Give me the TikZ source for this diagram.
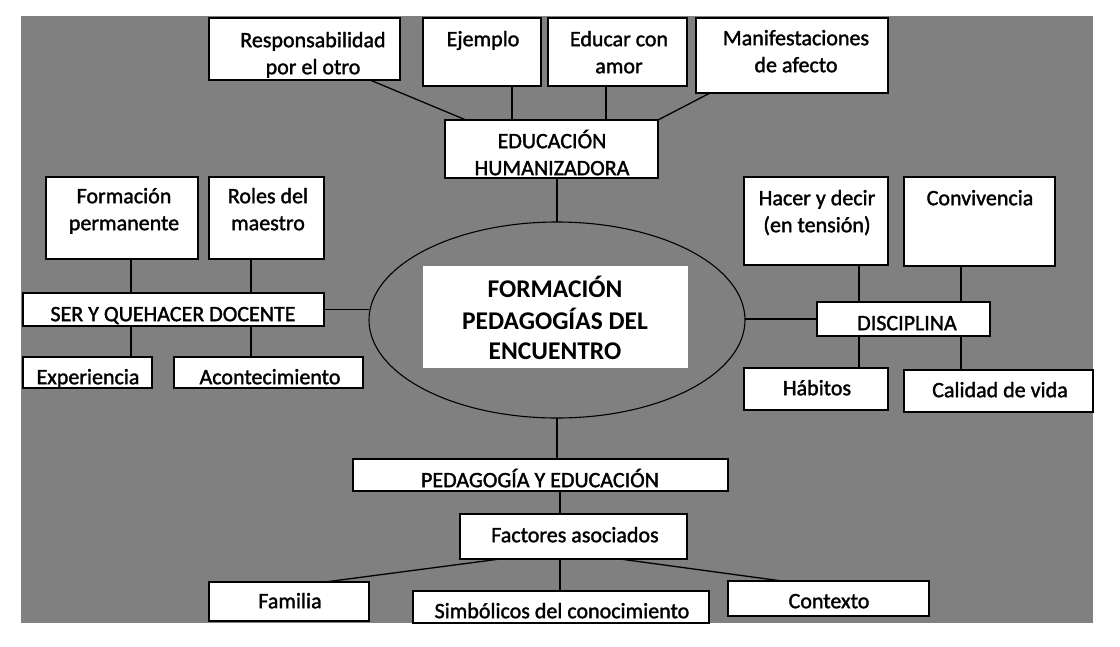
\documentclass[tikz,border=0pt]{standalone}
\usepackage{fontspec}
\setmainfont{Carlito}
\newfontfamily\lblfam{Carlito}[FakeBold=1.5]
\usetikzlibrary{shapes.geometric,calc}
\definecolor{bggray}{RGB}{128,128,128}
\newcommand\lblf{\lblfam\fontsize{22}{27}\selectfont}
\newcommand\ctrf{\fontsize{25.5}{30}\selectfont\bfseries}
% box: name, left, top, right, bottom
\newcommand\mkbox[5]{\node[box, minimum width={#4-#2}, minimum height={#5-#3}] (#1) at ({(#2+#4)/2},{(#3+#5)/2}) {};}
% label: name, x, baseline, text
\newcommand\mklbl[4]{\node[lbl] (#1) at (#2,{#3-18.9}) {\strut #4};}
\tikzset{
  box/.style={draw=black, fill=white, line width=1.1pt, inner sep=0pt, outer sep=0pt},
  lbl/.style={inner sep=0pt, anchor=north, align=center, font=\lblf, text=black},
  conn/.style={draw=black, line width=1.3pt},
}
\begin{document}
\begin{tikzpicture}[x=1pt,y=-1pt]
\useasboundingbox (0,0) rectangle (1120,646);
\fill[white] (0,0) rectangle (1120,646);
\fill[bggray] (21,16) rectangle (1093,623);

% centre
\node[draw=black, ellipse, line width=1.1pt, minimum width=376pt, minimum height=196pt, inner sep=0pt, outer sep=0pt] (ell) at (557,320) {};
\node[fill=white, minimum width=265pt, minimum height=102pt, inner sep=0pt] (ctrbox) at (555.5,317) {};
\node[lbl, font=\ctrf] (ctrtxt) at (555,{297-21}) {\strut FORMACIÓN\\PEDAGOGÍAS DEL\\ENCUENTRO};

% top
\mkbox{resp}{209}{18}{400}{80}
\mkbox{ej}{423}{18}{541}{86}
\mkbox{edu}{548}{18}{687}{86}
\mkbox{man}{696}{18}{888}{93}
\mkbox{eh}{445}{120}{658}{178}
\mklbl{tresp}{313}{47}{Responsabilidad\\por el otro}
\mklbl{tej}{483}{46}{Ejemplo}
\mklbl{tedu}{619}{46}{Educar con\\amor}
\mklbl{tman}{796}{45}{Manifestaciones\\de afecto}
\mklbl{teh}{552}{148}{EDUCACIÓN\\HUMANIZADORA}

% left
\mkbox{fp}{46}{177}{198}{259}
\mkbox{roles}{209}{177}{324}{259}
\mkbox{sqd}{23}{293}{324}{326}
\mkbox{exp}{23}{357}{152}{388}
\mkbox{acon}{174}{357}{363}{388}
\mklbl{tfp}{124}{203}{Formación\\permanente}
\mklbl{troles}{268}{203}{Roles del\\maestro}
\mklbl{tsqd}{173}{321}{SER Y QUEHACER DOCENTE}
\mklbl{texp}{88}{384}{Experiencia}
\mklbl{tacon}{270}{384}{Acontecimiento}

% right
\mkbox{hacer}{744}{177}{888}{265}
\mkbox{conv}{904}{177}{1055}{266}
\mkbox{disc}{817}{302}{990}{336}
\mkbox{hab}{744}{368}{888}{410}
\mkbox{cal}{904}{370}{1093}{412}
\mklbl{thacer}{817}{205}{Hacer y decir\\(en tensión)}
\mklbl{tconv}{980}{205}{Convivencia}
\mklbl{tdisc}{907}{330}{DISCIPLINA}
\mklbl{thab}{817}{395}{Hábitos}
\mklbl{tcal}{1000}{397}{Calidad de vida}

% bottom
\mkbox{pye}{353}{459}{728}{491}
\mkbox{fac}{460}{514}{687}{559}
\mkbox{fam}{209}{582}{369}{621}
\mkbox{sim}{413}{591}{709}{623}
\mkbox{con}{728}{581}{929}{616}
\mklbl{tpye}{540}{487}{PEDAGOGÍA Y EDUCACIÓN}
\mklbl{tfac}{575}{542}{Factores asociados}
\mklbl{tfam}{290}{608}{Familia}
\mklbl{tsim}{562}{618}{Simbólicos del conocimiento}
\mklbl{tcon}{829}{608}{Contexto}

% connectors
\draw[conn] ([xshift=65.5pt]resp.south) -- ([xshift=-85.5pt]eh.north);
\draw[conn] ([xshift=30pt]ej.south) -- ([xshift=30pt]ej.south |- eh.north);
\draw[conn] ([xshift=-11.5pt]edu.south) -- ([xshift=-11.5pt]edu.south |- eh.north);
\draw[conn] ([xshift=-82pt]man.south) -- (eh.north east);
\draw[conn] (ell.north) -- (ell.north |- eh.south);

\draw[conn] ([xshift=9pt]fp.south) -- ([xshift=9pt]fp.south |- sqd.north);
\draw[conn] ([xshift=-15.5pt]roles.south) -- ([xshift=-15.5pt]roles.south |- sqd.north);
\draw[conn] ([xshift=43.5pt]exp.north) -- ([xshift=43.5pt]exp.north |- sqd.south);
\draw[conn] ([xshift=-17.5pt]acon.north) -- ([xshift=-17.5pt]acon.north |- sqd.south);
\draw[conn] (sqd.east) -- (sqd.east -| ell.west);

\draw[conn] (disc.west) -- (disc.west -| ell.east);
\draw[conn] ([xshift=43pt]hacer.south) -- ([xshift=43pt]hacer.south |- disc.north);
\draw[conn] ([xshift=-18.5pt]conv.south) -- ([xshift=-18.5pt]conv.south |- disc.north);
\draw[conn] ([xshift=43pt]hab.north) -- ([xshift=43pt]hab.north |- disc.south);
\draw[conn] ([xshift=-37.5pt]cal.north) -- ([xshift=-37.5pt]cal.north |- disc.south);

\draw[conn] (ell.south) -- (ell.south |- pye.north);
\draw[conn] ([xshift=-13.5pt]fac.north) -- ([xshift=-13.5pt]fac.north |- pye.south);
\draw[conn] ([xshift=-13.5pt]fac.south) -- ([xshift=-13.5pt]fac.south |- sim.north);
\draw[conn] ([xshift=-73.5pt]fac.south) -- ([xshift=36pt]fam.north);
\draw[conn] ([xshift=46.5pt]fac.south) -- ([xshift=-46.5pt]con.north);
\end{tikzpicture}
\end{document}
